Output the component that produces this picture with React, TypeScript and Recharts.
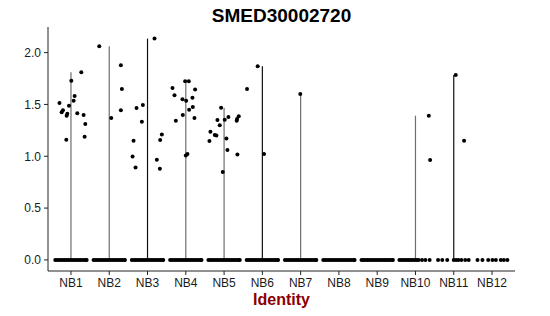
import React from "react";
import {
  ScatterChart,
  Scatter,
  XAxis,
  YAxis,
  ReferenceLine,
  Customized,
} from "recharts";

const categories = [
  "NB1", "NB2", "NB3", "NB4", "NB5", "NB6",
  "NB7", "NB8", "NB9", "NB10", "NB11", "NB12",
];

// horizontal jitter of the cells with zero expression
const zeroJitterDense = [
  -0.41, -0.36, -0.31, -0.26, -0.21, -0.16, -0.11, -0.06, -0.01,
  0.04, 0.09, 0.14, 0.19, 0.24, 0.29, 0.34, 0.39, 0.41,
];
const zeroJitterNB10 = [-0.42, -0.37, -0.32, -0.27, -0.22, -0.17, -0.12, -0.07, -0.02, 0.03, 0.08, 0.17, 0.26, 0.37];
const zeroJitterNB11 = [-0.41, -0.3, -0.17, 0.0, 0.06, 0.12, 0.2, 0.3, 0.39];
const zeroJitterNB12 = [-0.38, -0.25, -0.1, 0.01, 0.1, 0.23, 0.31, 0.4];

// expressing cells: [jittered x, expression]
const nb1Points = [
  [0.7, 1.514], [0.757, 1.424], [0.791, 1.443], [0.887, 1.391], [0.904, 1.411],
  [0.948, 1.488], [1.009, 1.729], [1.07, 1.536], [1.096, 1.581], [1.165, 1.414],
  [1.27, 1.81], [1.33, 1.398], [1.374, 1.311], [1.357, 1.188], [0.878, 1.159],
];
const nb2Points = [
  [1.739, 2.061], [2.052, 1.369], [2.304, 1.878], [2.33, 1.649], [2.304, 1.443],
];
const nb3Points = [
  [3.183, 2.135], [2.635, 1.15], [2.609, 0.998], [2.687, 0.892], [2.713, 1.465],
  [2.852, 1.333], [2.878, 1.494], [3.243, 0.966], [3.322, 0.879], [3.33, 1.156],
  [3.374, 1.211],
];
const nb4Points = [
  [3.652, 1.659], [3.704, 1.588], [3.739, 1.343], [3.913, 1.549], [3.922, 1.398],
  [3.983, 1.723], [4.078, 1.723], [4.009, 1.536], [4.087, 1.449], [4.174, 1.565],
  [4.183, 1.475], [4.243, 1.643], [4.226, 1.369], [4.0, 1.008], [4.043, 1.021],
];
const nb5Points = [
  [4.617, 1.147], [4.643, 1.237], [4.757, 1.205], [4.8, 1.201], [4.826, 1.349],
  [4.887, 1.298], [4.922, 1.469], [5.017, 1.353], [5.061, 1.172], [5.087, 1.06],
  [5.113, 1.378], [4.965, 0.847], [5.33, 1.343], [5.339, 1.359], [5.383, 1.385],
  [5.348, 1.018],
];
const nb6Points = [[5.878, 1.868], [5.6, 1.649], [6.043, 1.021]];
const nb7Points = [[6.991, 1.601]];
const nb8Points: number[][] = [];
const nb9Points: number[][] = [];
const nb10Points = [[10.348, 1.391], [10.383, 0.963]];
const nb11Points = [[11.052, 1.784], [11.27, 1.15]];
const nb12Points: number[][] = [];

const groupPoints = [
  nb1Points, nb2Points, nb3Points, nb4Points, nb5Points, nb6Points,
  nb7Points, nb8Points, nb9Points, nb10Points, nb11Points, nb12Points,
];
const groupZeroJitter = [
  zeroJitterDense, zeroJitterDense, zeroJitterDense, zeroJitterDense,
  zeroJitterDense, zeroJitterDense, zeroJitterDense, zeroJitterDense,
  zeroJitterDense, zeroJitterNB10, zeroJitterNB11, zeroJitterNB12,
];

const yTicks = [0, 0.5, 1, 1.5, 2];

// outline colour of each (collapsed) violin
const violinColors = [
  "#6e6e6e", "#6e6e6e", "#111111", "#6e6e6e", "#6e6e6e", "#111111",
  "#6e6e6e", "#6e6e6e", "#6e6e6e", "#6e6e6e", "#111111", "#6e6e6e",
];

const scatterData = categories.flatMap((_, i) => [
  ...groupZeroJitter[i].map((o) => ({ x: i + 1 + o, y: 0 })),
  ...groupPoints[i].map(([x, y]) => ({ x, y })),
]);

const violinTops = groupPoints.map((pts) =>
  pts.length ? Math.max(...pts.map((p) => p[1])) : 0
);

const FONT = "'Liberation Sans', Arial, Helvetica, sans-serif";

const Dot = (props: any) => {
  const { cx, cy } = props;
  if (cx == null || cy == null) return null;
  return <circle cx={cx} cy={cy} r={2} fill="#000" />;
};

export default function App() {
  return (
    <div
      style={{
        position: "absolute",
        left: 0,
        top: 0,
        width: 550,
        height: 316,
        background: "#fff",
        fontFamily: FONT,
      }}
    >
      <ScatterChart
        width={550}
        height={316}
        margin={{ top: 27, right: 35, left: 0, bottom: 0 }}
      >
        <XAxis
          type="number"
          dataKey="x"
          domain={[0.4, 12.6]}
          ticks={categories.map((_, i) => i + 1)}
          tickFormatter={(v) => categories[Math.round(v) - 1]}
          allowDataOverflow
          height={45}
          tickSize={4}
          tickMargin={3}
          stroke="#222"
          tick={{ fill: "#1a1a1a", fontSize: 12, fontFamily: FONT }}
          label={{
            value: "Identity",
            position: "insideBottom",
            offset: 11,
            fill: "#8b0000",
            fontSize: 16,
            fontWeight: "bold",
            fontFamily: FONT,
          }}
        />
        <YAxis
          type="number"
          dataKey="y"
          domain={[-0.107, 2.247]}
          ticks={yTicks}
          tickFormatter={(v) => v.toFixed(1)}
          allowDataOverflow
          width={48}
          tickSize={4}
          tickMargin={3}
          stroke="#222"
          tick={{ fill: "#1a1a1a", fontSize: 12, fontFamily: FONT }}
        />
        {violinTops.map((top, i) =>
          top > 0 ? (
            <ReferenceLine
              key={categories[i]}
              segment={[
                { x: i + 1, y: 0 },
                { x: i + 1, y: top },
              ]}
              stroke={violinColors[i]}
              strokeWidth={1.2}
            />
          ) : null
        )}
        <Scatter
          data={scatterData}
          shape={<Dot />}
          isAnimationActive={false}
        />
        <Customized
          component={() => (
            <text
              x={281.5}
              y={22}
              textAnchor="middle"
              fontSize={19}
              fontWeight="bold"
              fontFamily={FONT}
              fill="#000"
            >
              SMED30002720
            </text>
          )}
        />
      </ScatterChart>
    </div>
  );
}
